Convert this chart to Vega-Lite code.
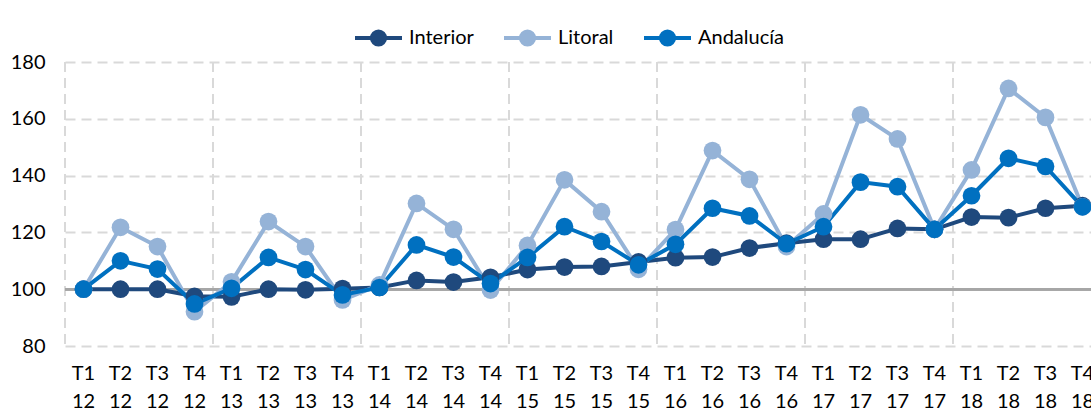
{
  "$schema": "https://vega.github.io/schema/vega-lite/v6.json",
  "autosize": "none",
  "width": 1036,
  "height": 284,
  "padding": {"left": 65, "top": 62, "right": 0, "bottom": 64},
  "background": "white",
  "config": {"font": "Lato", "view": {"stroke": null}},
  "datasets": {
    "rows": [
      {"p": "T1 12", "s": "Interior", "v": 100}, {"p": "T2 12", "s": "Interior", "v": 100}, {"p": "T3 12", "s": "Interior", "v": 100}, {"p": "T4 12", "s": "Interior", "v": 97.5},
      {"p": "T1 13", "s": "Interior", "v": 97.3}, {"p": "T2 13", "s": "Interior", "v": 100}, {"p": "T3 13", "s": "Interior", "v": 99.8}, {"p": "T4 13", "s": "Interior", "v": 100.2},
      {"p": "T1 14", "s": "Interior", "v": 100.6}, {"p": "T2 14", "s": "Interior", "v": 103.1}, {"p": "T3 14", "s": "Interior", "v": 102.5}, {"p": "T4 14", "s": "Interior", "v": 104.2},
      {"p": "T1 15", "s": "Interior", "v": 106.9}, {"p": "T2 15", "s": "Interior", "v": 107.8}, {"p": "T3 15", "s": "Interior", "v": 108}, {"p": "T4 15", "s": "Interior", "v": 109.6},
      {"p": "T1 16", "s": "Interior", "v": 111.1}, {"p": "T2 16", "s": "Interior", "v": 111.3}, {"p": "T3 16", "s": "Interior", "v": 114.5}, {"p": "T4 16", "s": "Interior", "v": 116.2},
      {"p": "T1 17", "s": "Interior", "v": 117.6}, {"p": "T2 17", "s": "Interior", "v": 117.6}, {"p": "T3 17", "s": "Interior", "v": 121.4}, {"p": "T4 17", "s": "Interior", "v": 121.1},
      {"p": "T1 18", "s": "Interior", "v": 125.4}, {"p": "T2 18", "s": "Interior", "v": 125.2}, {"p": "T3 18", "s": "Interior", "v": 128.5}, {"p": "T4 18", "s": "Interior", "v": 129.4},
      {"p": "T1 12", "s": "Litoral", "v": 100}, {"p": "T2 12", "s": "Litoral", "v": 121.8}, {"p": "T3 12", "s": "Litoral", "v": 115}, {"p": "T4 12", "s": "Litoral", "v": 92.1},
      {"p": "T1 13", "s": "Litoral", "v": 102.6}, {"p": "T2 13", "s": "Litoral", "v": 123.8}, {"p": "T3 13", "s": "Litoral", "v": 115}, {"p": "T4 13", "s": "Litoral", "v": 96.2},
      {"p": "T1 14", "s": "Litoral", "v": 101.5}, {"p": "T2 14", "s": "Litoral", "v": 130.2}, {"p": "T3 14", "s": "Litoral", "v": 121.1}, {"p": "T4 14", "s": "Litoral", "v": 99.7},
      {"p": "T1 15", "s": "Litoral", "v": 115.4}, {"p": "T2 15", "s": "Litoral", "v": 138.5}, {"p": "T3 15", "s": "Litoral", "v": 127.3}, {"p": "T4 15", "s": "Litoral", "v": 107},
      {"p": "T1 16", "s": "Litoral", "v": 121}, {"p": "T2 16", "s": "Litoral", "v": 148.8}, {"p": "T3 16", "s": "Litoral", "v": 138.7}, {"p": "T4 16", "s": "Litoral", "v": 115},
      {"p": "T1 17", "s": "Litoral", "v": 126.5}, {"p": "T2 17", "s": "Litoral", "v": 161.4}, {"p": "T3 17", "s": "Litoral", "v": 152.9}, {"p": "T4 17", "s": "Litoral", "v": 121.1},
      {"p": "T1 18", "s": "Litoral", "v": 142}, {"p": "T2 18", "s": "Litoral", "v": 170.7}, {"p": "T3 18", "s": "Litoral", "v": 160.5}, {"p": "T4 18", "s": "Litoral", "v": 129},
      {"p": "T1 12", "s": "Andalucía", "v": 100}, {"p": "T2 12", "s": "Andalucía", "v": 110}, {"p": "T3 12", "s": "Andalucía", "v": 107.1}, {"p": "T4 12", "s": "Andalucía", "v": 94.8},
      {"p": "T1 13", "s": "Andalucía", "v": 100.3}, {"p": "T2 13", "s": "Andalucía", "v": 111.2}, {"p": "T3 13", "s": "Andalucía", "v": 106.9}, {"p": "T4 13", "s": "Andalucía", "v": 98},
      {"p": "T1 14", "s": "Andalucía", "v": 100.6}, {"p": "T2 14", "s": "Andalucía", "v": 115.6}, {"p": "T3 14", "s": "Andalucía", "v": 111.3}, {"p": "T4 14", "s": "Andalucía", "v": 102},
      {"p": "T1 15", "s": "Andalucía", "v": 111.2}, {"p": "T2 15", "s": "Andalucía", "v": 122}, {"p": "T3 15", "s": "Andalucía", "v": 116.8}, {"p": "T4 15", "s": "Andalucía", "v": 108.6},
      {"p": "T1 16", "s": "Andalucía", "v": 115.8}, {"p": "T2 16", "s": "Andalucía", "v": 128.5}, {"p": "T3 16", "s": "Andalucía", "v": 125.8}, {"p": "T4 16", "s": "Andalucía", "v": 116},
      {"p": "T1 17", "s": "Andalucía", "v": 122}, {"p": "T2 17", "s": "Andalucía", "v": 137.7}, {"p": "T3 17", "s": "Andalucía", "v": 136.1}, {"p": "T4 17", "s": "Andalucía", "v": 121.1},
      {"p": "T1 18", "s": "Andalucía", "v": 132.9}, {"p": "T2 18", "s": "Andalucía", "v": 146.1}, {"p": "T3 18", "s": "Andalucía", "v": 143.2}, {"p": "T4 18", "s": "Andalucía", "v": 129}
    ]
  },
  "data": {"name": "rows"},
  "layer": [
    {
      "transform": [{"filter": "indexof(datum.p, 'T1') == 0 && datum.s == 'Interior'"}],
      "mark": {"type": "rule", "color": "#d9d9d9", "strokeWidth": 2, "strokeDash": [10, 6]},
      "encoding": {
        "x": {
          "field": "p",
          "type": "ordinal",
          "bandPosition": 0,
          "scale": {
            "type": "band",
            "paddingInner": 0,
            "paddingOuter": 0,
            "domain": ["T1 12","T2 12","T3 12","T4 12","T1 13","T2 13","T3 13","T4 13","T1 14","T2 14","T3 14","T4 14","T1 15","T2 15","T3 15","T4 15","T1 16","T2 16","T3 16","T4 16","T1 17","T2 17","T3 17","T4 17","T1 18","T2 18","T3 18","T4 18"]
          },
          "axis": {
            "title": null,
            "bandPosition": 0.5,
            "labelExpr": "split(datum.value, ' ')",
            "labelAngle": 0,
            "labelAlign": "center",
            "ticks": false,
            "domain": false,
            "grid": false,
            "labelFontSize": 20,
            "labelLineHeight": 28,
            "labelPadding": 17,
            "labelColor": "#000000"
          }
        }
      }
    },
    {
      "mark": {"type": "rule", "color": "#a6a6a6", "strokeWidth": 2},
      "encoding": {"y": {"datum": 100, "type": "quantitative"}}
    },
    {
      "mark": {"type": "line", "strokeWidth": 4},
      "encoding": {
        "x": {"field": "p", "type": "ordinal", "bandPosition": 0.5},
        "y": {
          "field": "v",
          "type": "quantitative",
          "scale": {"domain": [80, 180], "nice": false, "zero": false},
          "axis": {
            "title": null,
            "values": [80, 100, 120, 140, 160, 180],
            "grid": true,
            "gridDash": [10, 6],
            "gridColor": "#d9d9d9",
            "gridWidth": 2,
            "domain": false,
            "ticks": false,
            "labelPadding": 20,
            "labelFontSize": 20,
            "labelColor": "#000000"
          }
        },
        "color": {
          "field": "s",
          "type": "nominal",
          "scale": {"domain": ["Interior", "Litoral", "Andalucía"], "range": ["#1f497d", "#95b3d7", "#0070c0"]},
          "legend": {
            "orient": "none",
            "legendX": 288,
            "legendY": -50,
            "direction": "horizontal",
            "title": null,
            "symbolType": "M-1,0L1,0M0.28,0A0.28,0.28,0,1,1,-0.28,0A0.28,0.28,0,1,1,0.28,0Z",
            "symbolSize": 2209,
            "symbolStrokeWidth": 4,
            "labelFontSize": 20,
            "labelColor": "#000000",
            "columnPadding": 22,
            "labelOffset": 5,
            "symbolOpacity": 1
          }
        }
      }
    },
    {
      "mark": {"type": "circle", "size": 314, "opacity": 1},
      "encoding": {
        "x": {"field": "p", "type": "ordinal", "bandPosition": 0.5},
        "y": {"field": "v", "type": "quantitative"},
        "color": {"field": "s", "type": "nominal"}
      }
    }
  ]
}
